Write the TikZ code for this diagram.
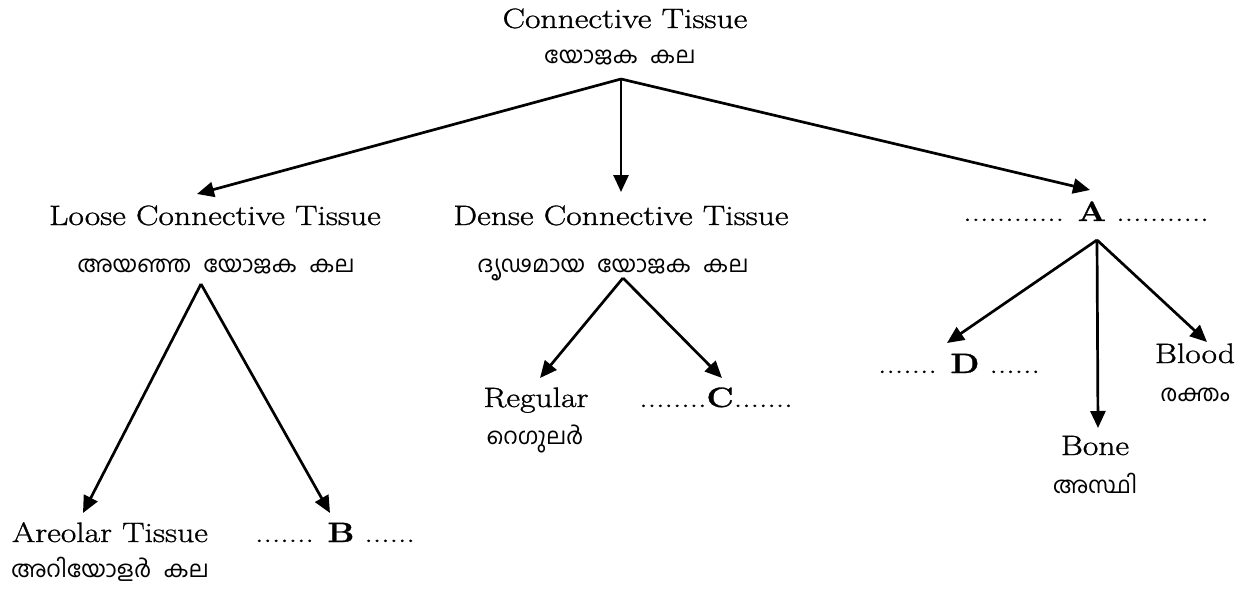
\documentclass[tikz,border=0pt]{standalone}
\usepackage{fontspec}
\setmainfont{Latin Modern Roman}[FakeStretch=1.2,FakeBold=1.1]
\newfontfamily\mal[Script=Malayalam,WordSpace=2.2]{Hind Kochi}
\usetikzlibrary{arrows.meta}
\begin{document}
\begin{tikzpicture}[x=1pt,y=-1pt,
  en/.style={anchor=base,inner sep=0pt,font=\fontsize{28}{32}\selectfont},
  ml/.style={anchor=base,inner sep=0pt,font=\mal\fontsize{23}{26}\selectfont},
  arr/.style={line width=2.7pt,-{Triangle[length=17pt,width=15pt]}}]
\useasboundingbox (0,0) rectangle (1247,591);
% labels
\node[en] (ct) at (625,28) {Connective Tissue};
\node[ml] (ctm) at (620,64) {യോജക കല};
\node[en] (lct) at (215,225) {Loose Connective Tissue};
\node[ml] (lctm) at (216,272) {അയഞ്ഞ യോജക കല};
\node[en] (dct) at (621,225) {Dense Connective Tissue};
\node[ml] (dctm) at (613,272) {ദൃഢമായ യോജക കല};
\node[en] (a) at (1086,221) {............ \textbf{A} ...........};
\node[en] (are) at (110,542) {Areolar Tissue};
\node[ml] (arem) at (110,577) {അറിയോളർ കല};
\node[en] (b) at (335,542) {....... \textbf{B} ......};
\node[en] (reg) at (536,407) {Regular};
\node[ml] (regm) at (535,444) {റെഗുലർ};
\node[en] (c) at (716,407) {........\textbf{C}.......};
\node[en] (d) at (959,373) {....... \textbf{D} ......};
\node[en] (blood) at (1195,363) {Blood};
\node[ml] (bloodm) at (1195,401) {രക്തം};
\node[en] (bone) at (1095,455) {Bone};
\node[ml] (bonem) at (1095,493) {അസ്ഥി};
% branch points and tips
\coordinate (r0) at (621,79);
\coordinate (tl) at (197,194);
\coordinate (tm) at (621,192);
\coordinate (tr) at (1090,190);
\coordinate (r1) at (201,284);
\coordinate (t1a) at (83,513);
\coordinate (t1b) at (330,513);
\coordinate (r2) at (623,278);
\coordinate (t2a) at (540,378);
\coordinate (t2b) at (722,378);
\coordinate (r3) at (1097,240);
\coordinate (t3a) at (947,343);
\coordinate (t3b) at (1098,428);
\coordinate (t3c) at (1207,342);
% connectors
\draw[arr] (r0) -- (tl);
\draw[arr] (r0) -- (tm);
\draw[arr] (r0) -- (tr);
\draw[arr] (r1) -- (t1a);
\draw[arr] (r1) -- (t1b);
\draw[arr] (r2) -- (t2a);
\draw[arr] (r2) -- (t2b);
\draw[arr] (r3) -- (t3a);
\draw[arr] (r3) -- (t3b);
\draw[arr] (r3) -- (t3c);
\end{tikzpicture}
\end{document}
